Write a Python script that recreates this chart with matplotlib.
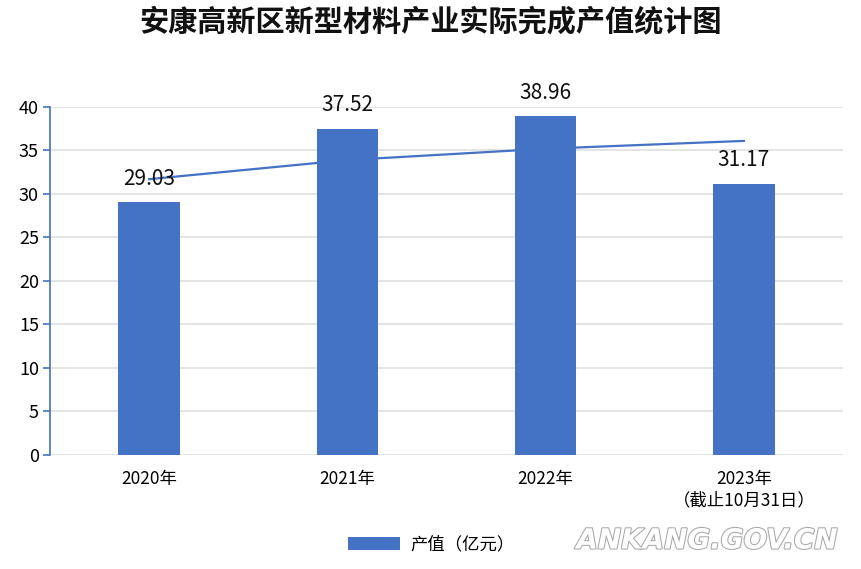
import matplotlib.pyplot as plt
import matplotlib.patheffects as pe
from matplotlib.patches import Patch

plt.rcParams['font.family'] = ['Noto Sans CJK SC', 'DejaVu Sans']

# 数据
years = ["2020年", "2021年", "2022年", "2023年\n（截止10月31日）"]
values = [29.03, 37.52, 38.96, 31.17]
trend = [31.7, 33.9, 35.2, 36.1]
yticks = [0, 5, 10, 15, 20, 25, 30, 35, 40]

blue = "#4472C4"

fig = plt.figure(figsize=(8.62, 5.69), dpi=100)
ax = fig.add_axes([0.058, 0.2004, 0.920, 0.6116])

x = list(range(len(years)))
ax.bar(x, values, width=0.31, color=blue, zorder=3)
ax.plot(x, trend, color=blue, linewidth=1.6, zorder=4)

for xi, v in zip(x, values):
    ax.annotate(f"{v:.2f}", (xi, v), xytext=(0, 9), textcoords="offset points",
                ha="center", va="bottom", fontsize=15, color="#111111", zorder=5)

ax.set_xlim(-0.5, 3.5)
ax.set_ylim(0, 40)
ax.set_yticks(yticks)
ax.set_xticks(x)
ax.set_xticklabels(years, fontsize=12.5, linespacing=1.25)
ax.tick_params(axis="y", labelsize=13, length=5, width=1.2, color=blue, pad=3)
ax.tick_params(axis="x", length=0, pad=11)

ax.grid(axis="y", color="#DDDDDD", linewidth=1.1, zorder=0)
for s in ["top", "right", "bottom"]:
    ax.spines[s].set_visible(False)
ax.spines["left"].set_color(blue)
ax.spines["left"].set_linewidth(1.2)

fig.text(0.5, 0.962, "安康高新区新型材料产业实际完成产值统计图", ha="center", va="center",
         fontsize=21, fontweight="bold", color="#111111")

fig.legend(handles=[Patch(facecolor=blue, label="产值（亿元）")],
           loc="center", bbox_to_anchor=(0.50, 0.043), frameon=False,
           fontsize=12.5, handlelength=3.0, handleheight=0.8, handletextpad=0.6)

wm = fig.text(0.82, 0.05, "ANKANG.GOV.CN", ha="center", va="center",
              fontsize=20, fontweight="bold", style="italic", color="white",
              family="DejaVu Sans")
wm.set_path_effects([pe.withStroke(linewidth=1.5, foreground="#A8A8A8")])

fig.savefig("out.png", dpi=100)
